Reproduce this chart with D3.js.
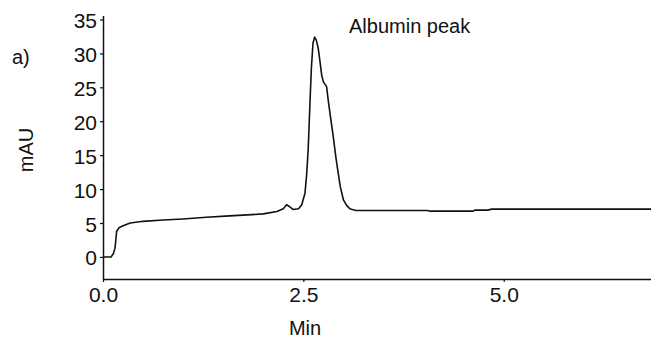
<!DOCTYPE html>
<html>
<head>
<meta charset="utf-8">
<script src="https://cdn.jsdelivr.net/npm/d3@7"></script>
<style>
  body { margin: 0; background: #fff; }
  svg { display: block; font-family: "Liberation Sans", Arial, sans-serif; }
</style>
</head>
<body>
<svg id="chart" width="651" height="338"></svg>
<script>
// chromatogram trace
var minutes = [0.00, 0.10, 0.13, 0.15, 0.16, 0.17, 0.20, 0.25, 0.34, 0.50, 0.75, 1.00, 1.29, 1.58, 1.80,
  2.00, 2.17, 2.25, 2.29, 2.33, 2.37, 2.44, 2.48, 2.52, 2.54, 2.56, 2.58, 2.60, 2.62, 2.64, 2.66,
  2.685, 2.705, 2.73, 2.75, 2.79, 2.81, 2.84, 2.87, 2.91, 2.96, 3.00, 3.04, 3.08, 3.12, 3.16,
  4.05, 4.08, 4.62, 4.64, 4.80, 4.85, 6.90];
var mau = [0.0, 0.0, 0.5, 1.3, 2.5, 3.8, 4.3, 4.6, 5.0, 5.25, 5.45, 5.6, 5.85, 6.05, 6.2,
  6.35, 6.7, 7.1, 7.7, 7.4, 7.0, 7.1, 7.7, 9.4, 12.0, 15.8, 22.0, 27.8, 31.5, 32.4, 32.0,
  30.8, 29.0, 26.7, 25.8, 25.1, 23.1, 20.5, 18.0, 14.3, 10.4, 8.4, 7.6, 7.1, 6.95, 6.85,
  6.85, 6.75, 6.75, 6.9, 6.9, 7.05, 7.05];
var xTicks = [0, 2.5, 5.0];
var yTicks = [0, 5, 10, 15, 20, 25, 30, 35];

var data = minutes.map(function(t, i) { return {t: t, v: mau[i]}; });

var svg = d3.select("#chart");
var ink = "#111";

var x = d3.scaleLinear().domain([0, 6.85]).range([103, 652]);
var y = d3.scaleLinear().domain([-3.25, 35.6]).range([279, 15.4]);

// y axis
var gy = svg.append("g")
  .attr("transform", "translate(103,0)")
  .call(d3.axisLeft(y).tickValues(yTicks).tickSize(3).tickSizeOuter(0).tickPadding(3));

// x axis
var gx = svg.append("g")
  .attr("transform", "translate(0,279)")
  .call(d3.axisBottom(x).tickValues(xTicks).tickSize(3).tickSizeOuter(0).tickPadding(5)
    .tickFormat(d3.format(".1f")));

[gx, gy].forEach(function(g) {
  g.select(".domain").attr("stroke", ink).attr("stroke-width", 1.5);
  g.selectAll(".tick line").attr("stroke", ink).attr("stroke-width", 1.2);
  g.selectAll(".tick text")
    .attr("fill", ink)
    .style("font-size", "21px")
    .style("font-family", "'Liberation Sans', Arial, sans-serif");
});
gy.selectAll(".tick text").attr("dy", "0.38em");

var line = d3.line()
  .x(function(d) { return x(d.t); })
  .y(function(d) { return y(d.v); });

svg.append("path")
  .datum(data)
  .attr("fill", "none")
  .attr("stroke", ink)
  .attr("stroke-width", 1.6)
  .attr("stroke-linejoin", "round")
  .attr("d", line);

// labels
svg.append("text")
  .attr("x", 305).attr("y", 335)
  .attr("text-anchor", "middle")
  .attr("fill", ink)
  .style("font-size", "20px")
  .text("Min");

svg.append("text")
  .attr("transform", "translate(33,150) rotate(-90)")
  .attr("text-anchor", "middle")
  .attr("fill", ink)
  .style("font-size", "20px")
  .text("mAU");

svg.append("text")
  .attr("x", 12).attr("y", 64)
  .attr("fill", ink)
  .style("font-size", "20px")
  .text("a)");

svg.append("text")
  .attr("x", 349).attr("y", 33)
  .attr("fill", ink)
  .style("font-size", "20px")
  .text("Albumin peak");
</script>
</body>
</html>
